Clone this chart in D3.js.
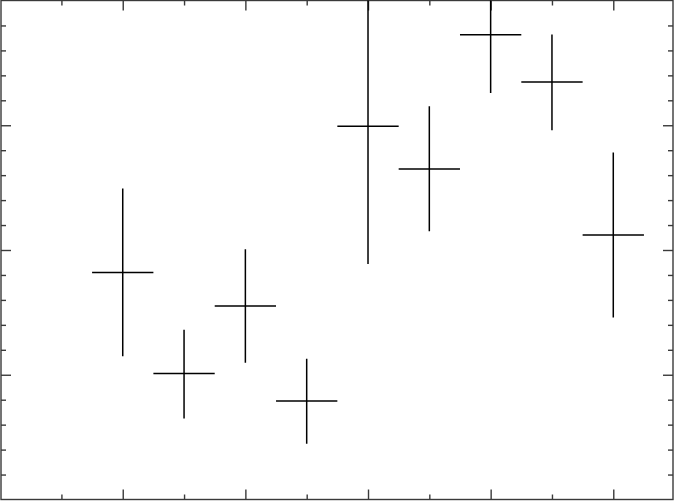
<!DOCTYPE html>
<html>
<head>
<meta charset="utf-8">
<script src="https://cdn.jsdelivr.net/npm/d3@7"></script>
<style>
  html, body { margin: 0; padding: 0; background: #fff; }
  svg { display: block; }
</style>
</head>
<body>
<svg id="chart" width="674" height="501"></svg>
<script>
// ---- data ----
const xValues   = [1, 1.5, 2, 2.5, 3, 3.5, 4, 4.5, 5];
const yValues   = [9.1, 5.05, 7.76, 3.95, 14.96, 13.25, 18.63, 16.73, 10.6];
const yErrLow   = [3.36, 1.8, 2.28, 1.72, 5.52, 2.5, 2.34, 1.93, 3.31];
const yErrHigh  = [3.36, 1.75, 2.27, 1.69, 5.52, 2.51, 2.34, 1.91, 3.31];
const xErr      = [0.25, 0.25, 0.25, 0.25, 0.25, 0.25, 0.25, 0.25, 0.25];
const xMajorTicks = [1, 2, 3, 4, 5];
const xMinorTicks = [0.5, 1.5, 2.5, 3.5, 4.5];
const yMajorTicks = [5, 10, 15];
const yMinorTicks = [1, 2, 3, 4, 6, 7, 8, 9, 11, 12, 13, 14, 16, 17, 18, 19];

const svg = d3.select("#chart");
const L = 1, R = 673, T = 0.5, B = 499.5;
const x = d3.scaleLinear().domain([0, 5.5]).range([0.1, 674.6]);
const y = d3.scaleLinear().domain([0, 20]).range([B, T]);

const frameColor = "#3a3a3a";

// clip
svg.append("defs").append("clipPath").attr("id", "clip")
  .append("rect").attr("x", L).attr("y", T).attr("width", R - L).attr("height", B - T);

function styleAxis(g) {
  g.select(".domain").remove();
  g.selectAll(".tick line").attr("stroke", frameColor).attr("stroke-width", 1.4);
  g.selectAll(".tick text").remove();
}

// bottom
svg.append("g").attr("transform", `translate(0,${B})`)
  .call(d3.axisBottom(x).tickValues(xMajorTicks).tickSize(-10).tickFormat("")).call(styleAxis);
svg.append("g").attr("transform", `translate(0,${B})`)
  .call(d3.axisBottom(x).tickValues(xMinorTicks).tickSize(-5).tickFormat("")).call(styleAxis);
// top
svg.append("g").attr("transform", `translate(0,${T})`)
  .call(d3.axisTop(x).tickValues(xMajorTicks).tickSize(-10).tickFormat("")).call(styleAxis);
svg.append("g").attr("transform", `translate(0,${T})`)
  .call(d3.axisTop(x).tickValues(xMinorTicks).tickSize(-5).tickFormat("")).call(styleAxis);
// left
svg.append("g").attr("transform", `translate(${L},0)`)
  .call(d3.axisLeft(y).tickValues(yMajorTicks).tickSize(-10).tickFormat("")).call(styleAxis);
svg.append("g").attr("transform", `translate(${L},0)`)
  .call(d3.axisLeft(y).tickValues(yMinorTicks).tickSize(-5).tickFormat("")).call(styleAxis);
// right
svg.append("g").attr("transform", `translate(${R},0)`)
  .call(d3.axisRight(y).tickValues(yMajorTicks).tickSize(-10).tickFormat("")).call(styleAxis);
svg.append("g").attr("transform", `translate(${R},0)`)
  .call(d3.axisRight(y).tickValues(yMinorTicks).tickSize(-5).tickFormat("")).call(styleAxis);

// frame
svg.append("rect").attr("x", L).attr("y", T).attr("width", R - L).attr("height", B - T)
  .attr("fill", "none").attr("stroke", frameColor).attr("stroke-width", 1.4);

// error bars
const data = xValues.map((xv, i) => ({ x: xv, y: yValues[i], lo: yErrLow[i], hi: yErrHigh[i], xe: xErr[i] }));
const g = svg.append("g").attr("clip-path", "url(#clip)");
g.selectAll("line.v").data(data).join("line").attr("class", "v")
  .attr("x1", d => x(d.x)).attr("x2", d => x(d.x))
  .attr("y1", d => y(d.y - d.lo)).attr("y2", d => y(d.y + d.hi))
  .attr("stroke", "#000").attr("stroke-width", 1.5);
g.selectAll("line.h").data(data).join("line").attr("class", "h")
  .attr("x1", d => x(d.x - d.xe)).attr("x2", d => x(d.x + d.xe))
  .attr("y1", d => y(d.y)).attr("y2", d => y(d.y))
  .attr("stroke", "#000").attr("stroke-width", 1.5);
</script>
</body>
</html>
